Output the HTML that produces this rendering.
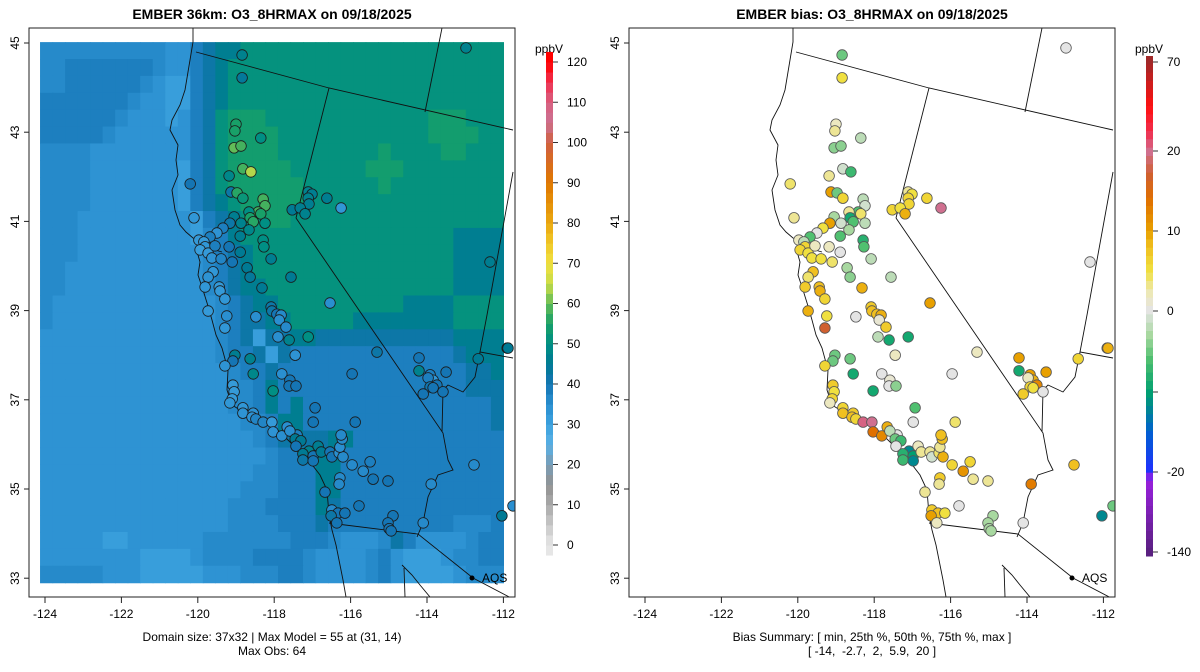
<!DOCTYPE html>
<html><head><meta charset="utf-8"><style>
html,body{margin:0;padding:0;background:#fff;}
svg{display:block;font-family:"Liberation Sans",sans-serif;}
</style></head><body>
<svg id="chart" width="1200" height="672" viewBox="0 0 1200 672" xmlns="http://www.w3.org/2000/svg">
<defs>
<clipPath id="clipL"><rect x="29" y="28" width="486" height="569"/></clipPath>
<clipPath id="clipR"><rect x="629" y="28" width="486" height="569"/></clipPath>
</defs>
<text x="272" y="19" text-anchor="middle" font-size="14" font-weight="bold">EMBER 36km: O3_8HRMAX on 09/18/2025</text>
<text x="872" y="19" text-anchor="middle" font-size="14" font-weight="bold">EMBER bias: O3_8HRMAX on 09/18/2025</text>
<g id="gridL" clip-path="url(#clipL)"></g>
<g id="mapL" clip-path="url(#clipL)"></g>
<g id="mapR" clip-path="url(#clipR)"></g>
<g id="ptsL" clip-path="url(#clipL)"></g>
<g id="ptsR" clip-path="url(#clipR)"></g>
<g id="axes"></g>
<text x="272" y="641" text-anchor="middle" font-size="12">Domain size: 37x32 | Max Model = 55 at (31, 14)</text>
<text x="272" y="655" text-anchor="middle" font-size="12">Max Obs: 64</text>
<text x="872" y="641" text-anchor="middle" font-size="12">Bias Summary: [ min, 25th %, 50th %, 75th %, max ]</text>
<text x="872" y="655" text-anchor="middle" font-size="12" xml:space="preserve">[ -14,  -2.7,  2,  5.9,  20 ]</text>
</svg>
<script>
const NS="http://www.w3.org/2000/svg";
// ---- data ----
const gridCols=37, gridRows=32;
const gridLon0=-124.13, gridLon1=-112.0, gridLat0=45.02, gridLat1=32.9;
const levelCodes="abcdefghij";
const levelValues=[28,31,34,36,38,42,46,51,54,57];
const modelRows=[
"ddddddddddccefgghhhhhhhhhhhhhhhhhhhhh",
"ddeeeeeeedccefghhhhhhhhhhhhhhhhhhhhhh",
"ddeeeeeedcbbefghhhhhhhhhhhhhhhhhhhhhh",
"eeeeeeedccbbefghhhhhhhhhhhhhhhhhhhhhh",
"eeeeeedcccbcefhiiihhhhhhhhhhhhhiiihhh",
"eeeeedccccccefhiiiihhhhhhhhhhhhiiiihh",
"ddddccccccccefhiiiihhhhhhhhihhhhiihhh",
"ddddcccccccbefhiiiiihhhhhhiiihhhhhhhh",
"ddddcccccccbefhiiiiiihhhhhhihhhhhhhhh",
"ddddcccccccbefghiiiiihhhhhhhhhhhhhhhh",
"dddcccccccccbefghhiihhhhhhhhhhhhhhhhh",
"dddcccccccccbdeghhhhhhhhhhhhhhhhhgggg",
"dddccccccccccdefghhhhhhhhhhhhhhhhgggg",
"ddcccccccccccdefghhhhhhhhhhhhhhhhgggg",
"ddcccccccccccdefgghhhhhhhhhhhhhhhgggg",
"dcccccccccccccdefgghhhhhhhhhhgggghhhh",
"dcccccccccccccdeffgghhhhhgggggggghhhh",
"ccccccccccccccdefbffggfffffffffffgggg",
"ccccccccccccccdeefbfeeeeeeeeeeeeefggg",
"cccccccccccccccdeefeeeeeeeeeeeeeeeffg",
"cccccccccccccccddegeeeeeeeeeeeeeeefff",
"cccccccccccccccddegegeeeeeeeeeeeeeeef",
"ccccccccccccccccddeggeeeeeeeeeeeeeeef",
"cccccccccccccccccdefgffggeeeeeeeeeeee",
"ccccccccccccccccccdeefggeeeeeeeeeeeee",
"cccccccccccccccccddeeeggeeeeeeeeeeeee",
"ccccccccccccccccdddeeeggeeeeeeeeeeeee",
"cccccccccccccccdddeeeegfeeeeeeeeeeeee",
"cccccccccccccccddddeeefeeeeeeeeeeddde",
"cccccbbccccccdddddddeeedcccdfeccccdee",
"ccccccccbbbbcddddeeeedccccdecbbbcddee",
"dddddcccbbbbbcccdddeedccccdecbbbbcddd"];
// stations: lon, lat, observed ppbV, bias ppbV
const stationLon=[-118.84,-118.84,-119.00,-119.03,-118.35,-119.05,-118.87,-118.82,-118.61,-119.18,-120.20,-119.13,-118.97,-118.82,-118.29,-118.24,-118.42,-118.35,-118.66,-118.63,-118.55,-119.05,-119.16,-118.87,-118.24,-118.66,-118.89,-119.34,-119.50,-119.68,-120.10,-119.97,-119.84,-119.81,-119.94,-119.73,-119.55,-119.18,-118.89,-119.63,-119.39,-119.10,-118.29,-118.27,-118.08,-118.71,-118.63,-119.60,-119.73,-119.81,-119.44,-119.42,-119.29,-118.32,-117.56,-119.73,-119.24,-118.48,-119.29,-118.08,-118.06,-117.93,-117.82,-117.87,-117.69,-117.90,-117.61,-117.11,-116.54,
-117.11,-117.01,-117.11,-117.09,-117.53,-117.32,-117.19,-116.62,-116.25,
-117.45,-115.31,-114.21,-114.21,-113.92,-113.84,-113.97,-113.74,-113.92,-113.84,-113.50,-113.58,-114.10,-112.66,-111.90,
-119.03,-119.08,-119.29,-118.63,-118.55,-117.80,-117.59,-117.61,-117.43,-118.03,-119.08,-119.05,-119.10,-119.16,-118.82,-118.82,-118.55,-118.58,-118.48,-118.29,-118.06,-118.03,-117.80,-117.66,-117.40,-117.59,-117.45,-117.30,-117.43,-116.93,-116.98,-115.88,-115.96,
-117.09,-117.25,-116.98,-117.25,-116.98,-116.85,-116.77,-116.54,-116.49,-116.30,-116.20,-116.28,-116.22,-116.25,-115.96,-115.67,-115.49,-115.41,-115.02,-116.28,-116.30,-116.67,-116.49,-116.33,-116.51,-116.15,-116.36,-115.78,-114.89,-115.02,-114.99,-114.94,-114.10,-113.89,-112.77,-112.04,-111.75,-112.98,-112.35,-111.88];
const stationLat=[44.73,44.22,43.18,43.03,42.87,42.65,42.69,42.18,42.11,42.02,41.84,41.66,41.64,41.52,41.50,41.35,41.21,41.17,41.21,41.08,40.99,41.10,40.96,40.96,40.96,40.81,40.67,40.85,40.74,40.65,41.08,40.58,40.54,40.43,40.36,40.29,40.45,40.43,40.31,40.18,40.16,40.09,40.58,40.43,40.16,39.96,39.75,39.87,39.75,39.53,39.53,39.44,39.26,39.51,39.75,38.99,38.88,38.86,38.61,39.08,38.99,38.92,38.90,38.79,38.63,38.41,38.34,38.41,39.17,
41.66,41.61,41.52,41.39,41.26,41.30,41.17,41.52,41.30,
38.00,38.07,37.94,37.65,37.56,37.44,37.49,37.33,37.29,37.27,37.62,37.18,37.13,37.92,38.16,
38.00,37.87,37.76,37.92,37.58,37.58,37.44,37.31,37.31,37.20,37.33,37.18,37.02,36.93,36.82,36.70,36.70,36.61,36.57,36.50,36.50,36.28,36.19,36.39,36.21,36.30,36.12,36.08,35.96,36.82,36.50,36.50,37.58,
35.85,35.79,35.74,35.65,35.63,35.96,35.83,35.83,35.72,35.81,35.72,35.94,36.12,36.21,35.54,35.40,35.61,35.22,35.18,35.25,35.11,34.93,34.53,34.46,34.40,34.46,34.24,34.62,34.40,34.24,34.11,34.06,34.24,35.11,35.54,34.40,34.62,44.89,40.09,38.16];
const stationObs=[47,44,55,55,50,60,58,58,64,48,40,42,56,52,58,58,58,55,50,55,56,46,42,47,50,48,46,38,34,38,33,32,32,33,31,32,38,40,45,34,37,40,50,50,46,45,44,33,34,33,32,32,33,45,45,32,35,35,33,42,42,40,36,35,36,35,47,50,35,
47,46,47,46,45,46,47,46,33,
34,42,40,47,38,33,38,40,41,40,40,40,40,45,45,
46,40,34,47,48,35,40,40,40,50,32,32,32,33,33,34,34,34,37,37,32,34,35,35,38,35,45,45,40,40,40,40,40,
47,45,40,42,40,46,45,40,40,35,36,35,36,36,36,36,38,40,40,36,36,40,36,40,42,40,40,40,40,40,40,40,36,36,36,45,35,47,46,45];
const stationBias=[-5,5,2,3,-2,-4,-4,-1,-7,3,4,10,-5,6,-2,-1,-6,4,3,-9,-6,-3,10,-1,-2,-3,-6,5,0,-6,3,2,-2,6,6,5,2,2,0,5,5,4,-8,-6,-2,-3,-4,8,4,7,8,9,6,9,-2,9,5,0,17,7,8,8,9,1,7,-2,-9,-9,10,
3,5,6,6,6,5,9,6,20,
2,2,10,-9,10,9,2,12,6,5,10,0,7,6,7,
-5,-5,6,-5,-9,0,1,0,-4,-9,7,5,6,2,6,8,7,8,6,22,20,14,12,9,0,-2,-5,-7,0,-6,0,4,0,
-12,-8,-10,-7,-12,2,3,3,-1,4,9,3,8,8,6,11,6,3,3,7,3,3,7,8,10,5,2,0,-3,-3,-3,-3,0,13,8,-12,-5,0,0,9];
// colour scales
const obsStops=[[0,'#e6e6e6'],[5,'#c8c8c8'],[10,'#aaaaaa'],[15,'#929292'],[20,'#7a9cb4'],[25,'#5ab0e4'],[30,'#3ca2de'],[35,'#2a8fd0'],[40,'#1575b4'],[45,'#007a94'],[50,'#008f84'],[55,'#18a068'],[60,'#62bc58'],[65,'#c8dc48'],[70,'#f0e040'],[75,'#f0c828'],[80,'#eaa810'],[90,'#e07800'],[100,'#d06040'],[105,'#cc7090'],[110,'#d86080'],[115,'#f03050'],[120,'#ff0000']];
const obsTicks=[0,10,20,30,40,50,60,70,80,90,100,110,120];
const biasStops=[[-140,'#5a2080'],[-30,'#9a20e0'],[-20,'#2030ff'],[-15,'#0060d0'],[-12,'#008890'],[-10,'#00a070'],[-6,'#50c070'],[-3,'#a8d8a0'],[0,'#e4e4e4'],[2,'#ece8c0'],[5,'#f0e040'],[8,'#f0c020'],[10,'#e8a000'],[14,'#e07000'],[17,'#d06030'],[20,'#d07090'],[30,'#f03050'],[45,'#ff1010'],[70,'#a02828']];
const biasTicks=[-140,-20,-10,0,10,20,70];
const biasTickLabels=['-140','-20','','0','10','20','70'];
const lonTicks=[-124,-122,-120,-118,-116,-114,-112];
const latTicks=[33,35,37,39,41,43,45];

// ---- helpers ----
function xs(lon){return 45+(lon+124)*38.2;}
function ys(lat){return 43+(45-lat)*44.6;}
function hex(c){return [parseInt(c.substr(1,2),16),parseInt(c.substr(3,2),16),parseInt(c.substr(5,2),16)];}
function colorAt(stops,v){
  if(v<=stops[0][0])return stops[0][1];
  for(let i=1;i<stops.length;i++){
    if(v<=stops[i][0]){const a=stops[i-1],b=stops[i];const t=(v-a[0])/(b[0]-a[0]);
      const ca=hex(a[1]),cb=hex(b[1]);
      return 'rgb('+ca.map((q,k)=>Math.round(q+(cb[k]-q)*t)).join(',')+')';}
  }
  return stops[stops.length-1][1];
}
function mk(tag,attrs,parent){const e=document.createElementNS(NS,tag);for(const k in attrs)e.setAttribute(k,attrs[k]);parent.appendChild(e);return e;}
function obsY(v){return 62+(120-v)*(545-62)/120;}
function biasY(v){
  for(let i=1;i<biasTicks.length;i++){ if(v<=biasTicks[i]){const pa=[552,472,392,311,231,151,62];const t=(v-biasTicks[i-1])/(biasTicks[i]-biasTicks[i-1]);return pa[i-1]+(pa[i]-pa[i-1])*t;}}
  return 62;
}

// ---- model grid ----
const gridL=document.getElementById('gridL');
const cw=(xs(gridLon1)-xs(gridLon0))/gridCols, ch=(ys(gridLat1)-ys(gridLat0))/gridRows;
for(let r=0;r<gridRows;r++){
  let row=modelRows[r]; while(row.length<gridCols)row+=row[row.length-1];
  for(let c=0;c<gridCols;c++){
    const v=levelValues[levelCodes.indexOf(row[c])];
    const rc=mk('rect',{x:(xs(gridLon0)+c*cw).toFixed(2),y:(ys(gridLat0)+r*ch).toFixed(2),width:(cw+0.6).toFixed(2),height:(ch+0.6).toFixed(2),fill:colorAt(obsStops,v)},gridL);
    
    
  }
}

// ---- outlines ----
const outlines=[
"M193,28 L193,42 L190,60 L185,90 L180,105 L172,120 L170,130 L178,145 L176,160 L178,175 L172,190 L175,210 L180,225 L186,232 L193,238 L200,241 L208,243 L212,246 L204,248 L198,255 L200,262 L198,275 L203,290 L208,306 L212,320 L216,335 L222,348 L228,370 L227,390 L232,405 L240,410 L250,413 L265,420 L280,432 L295,447 L310,462 L320,475 L327,490 L329,515 L332,530 L336,545 L340,565 L343,580 L346,597",
"M196,52 L329,88 L513,130",
"M329,88 L296,218",
"M296,218 L443,433 L448,460 L453,470 L438,475 L428,497 L423,523 L417,537",
"M329,523 L418,534 L473,578 L515,600",
"M442,28 L425,112",
"M513,172 L487,315 L480,352 L513,358",
"M480,352 L475,377 L463,392 L448,385 L443,390 L442,432",
"M402,565 L412,575 L420,585 L430,597",
"M404,568 L405,597",
"M205,246 L215,250 L222,252"
];
const mapL=document.getElementById('mapL'), mapR=document.getElementById('mapR');
outlines.forEach(d=>{
  const p1=mk('path',{d:d,fill:'none',stroke:'#111','stroke-width':'0.9'},mapL);
  
  
  const p2=mk('path',{d:d,fill:'none',stroke:'#111','stroke-width':'0.9',transform:'translate(600,0)'},mapR);
  
  
});

// ---- stations ----
const ptsL=document.getElementById('ptsL'), ptsR=document.getElementById('ptsR');
for(let i=0;i<stationLon.length;i++){
  const cx=xs(stationLon[i]), cy=ys(stationLat[i]);
  const a=mk('circle',{cx:cx.toFixed(1),cy:cy.toFixed(1),r:5.3,fill:colorAt(obsStops,stationObs[i]),stroke:'#1a1a1a','stroke-width':'0.8'},ptsL);
  
  
  const b=mk('circle',{cx:(cx+600).toFixed(1),cy:cy.toFixed(1),r:5.3,fill:colorAt(biasStops,stationBias[i]),stroke:'#555','stroke-width':'0.8'},ptsR);
  
  
}

// ---- axes, frames, colorbars ----
const axes=document.getElementById('axes');
[0,600].forEach((off,pi)=>{
  const fr=mk('rect',{x:29+off,y:28,width:486,height:569,fill:'none',stroke:'#222','stroke-width':'1'},axes);
  
  
  lonTicks.forEach(t=>{
    const x=xs(t)+off;
    const l=mk('line',{x1:x,y1:597,x2:x,y2:603,stroke:'#222'},axes);
    
    
    const tx=mk('text',{x:x,y:618,'text-anchor':'middle','font-size':'12'},axes);
    tx.textContent=t;
    
    
  });
  latTicks.forEach(t=>{
    const y=ys(t);
    const l=mk('line',{x1:24+off,y1:y,x2:29+off,y2:y,stroke:'#222'},axes);
    
    
    const tx=mk('text',{x:0,y:0,'text-anchor':'middle','font-size':'12',transform:'translate('+(19+off)+','+y+') rotate(-90)'},axes);
    tx.textContent=t;
    
    
  });
  const d=mk('circle',{cx:472+off,cy:578,r:2.5,fill:'#000'},axes);
  
  
  const at=mk('text',{x:482+off,y:582,'font-size':'12'},axes);
  at.textContent='AQS';
  
  
  const u=mk('text',{x:549+off,y:53,'text-anchor':'middle','font-size':'12'},axes);
  u.textContent='ppbV';
  
  
});
for(let v=-2.5;v<121.5;v+=2.5){
  const y1=obsY(v+2.5), y2=obsY(v);
  const r=mk('rect',{x:546,y:y1.toFixed(2),width:7,height:(y2-y1+0.5).toFixed(2),fill:colorAt(obsStops,v+1.25)},axes);
  
  
}
obsTicks.forEach(t=>{
  const y=obsY(t);
  const l=mk('line',{x1:553,y1:y,x2:558,y2:y,stroke:'#333'},axes);
  
  
  const tx=mk('text',{x:567,y:y+4,'font-size':'12'},axes);
  tx.textContent=t;
  
  
});
const bsteps=60;
for(let i=0;i<bsteps;i++){
  const y1=56+i*(500/bsteps), y2=y1+500/bsteps;
  const ym=(y1+y2)/2; let val=0;
  const pa=[552,472,392,311,231,151,62];
  if(ym>=552)val=-140; else if(ym<=62)val=70; else {
    for(let k=1;k<pa.length;k++){ if(ym>=pa[k]){const t=(pa[k-1]-ym)/(pa[k-1]-pa[k]);val=biasTicks[k-1]+(biasTicks[k]-biasTicks[k-1])*t;break;}}
  }
  const r=mk('rect',{x:1146,y:y1.toFixed(2),width:7,height:(500/bsteps+0.5).toFixed(2),fill:colorAt(biasStops,val)},axes);
  
  
}
biasTicks.forEach((t,i)=>{
  const y=biasY(t);
  const l=mk('line',{x1:1153,y1:y,x2:1158,y2:y,stroke:'#333'},axes);
  
  
  if(biasTickLabels[i]!==''){
    const tx=mk('text',{x:1167,y:y+4,'font-size':'12'},axes);
    tx.textContent=biasTickLabels[i];
    
    
  }
});
</script>
</body></html>
